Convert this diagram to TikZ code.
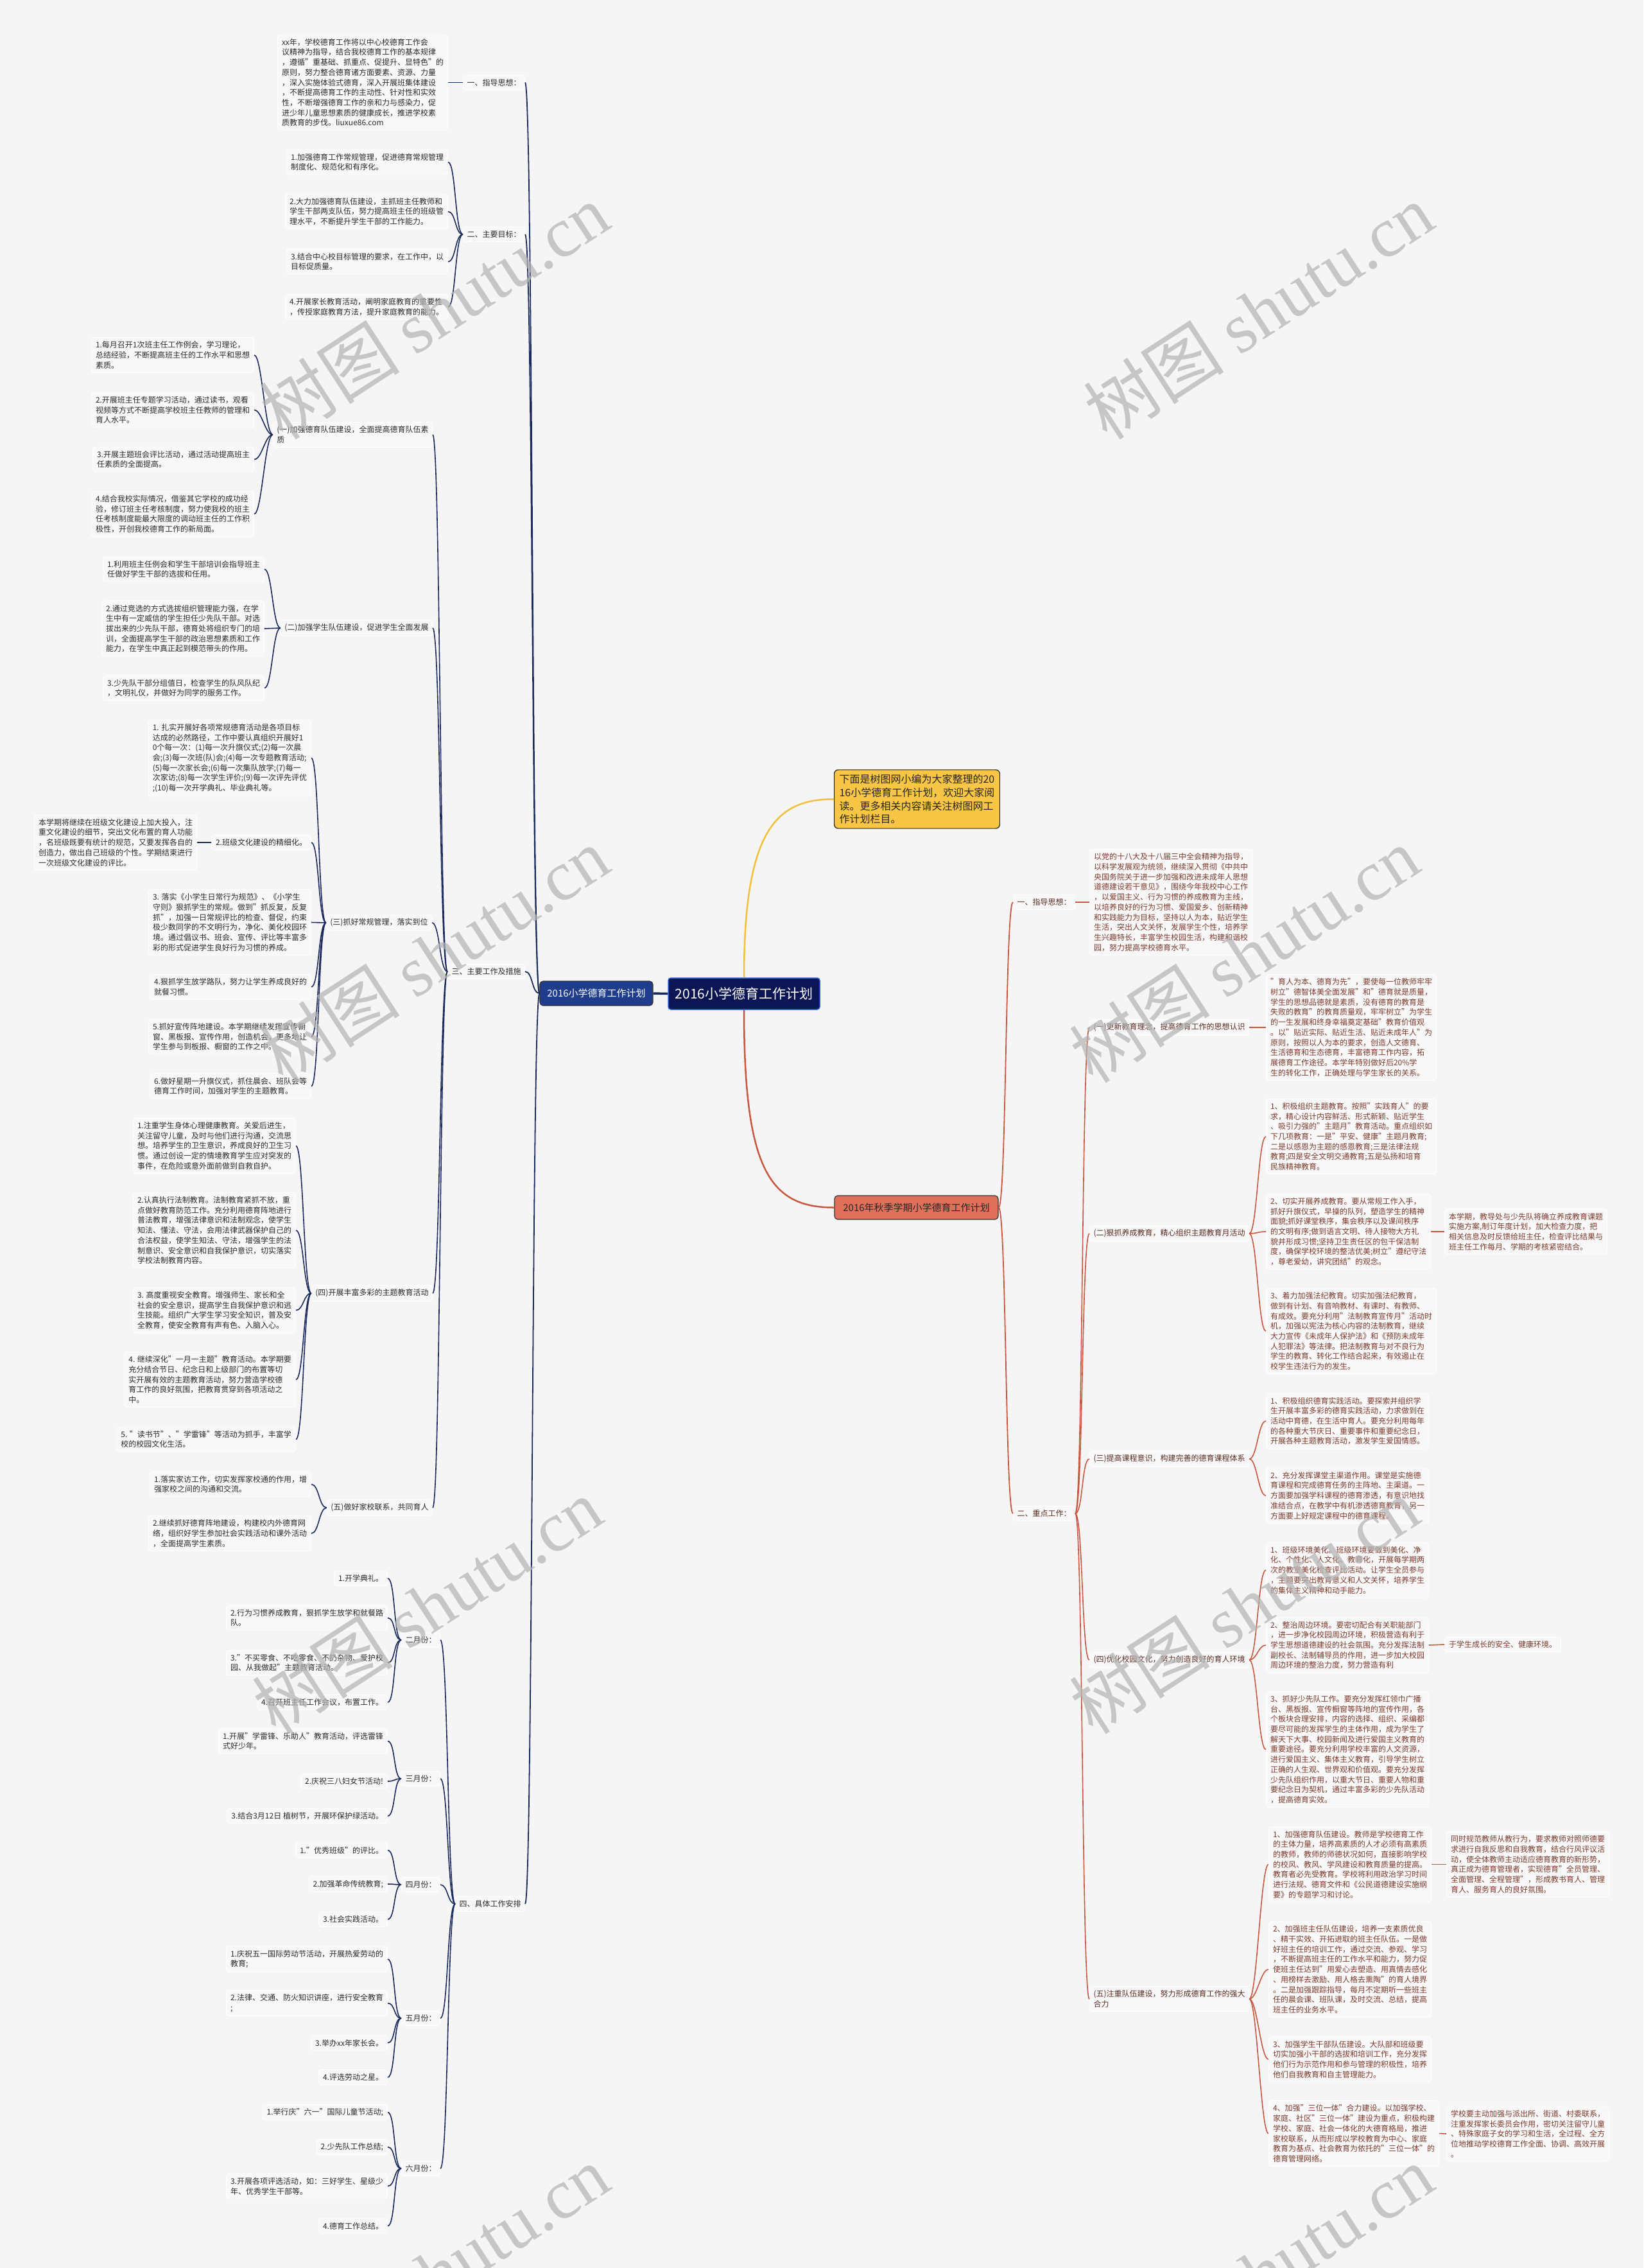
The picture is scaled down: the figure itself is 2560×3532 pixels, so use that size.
\documentclass[tikz,border=0pt]{standalone}
\usepackage{fontspec}
\setmainfont{Noto Sans CJK SC}
\newfontfamily\wmlatin{Liberation Serif}
\definecolor{bgc}{HTML}{F5F5F5}
\definecolor{leafbg}{HTML}{F8F8F8}
\definecolor{navyc}{HTML}{1B2A5C}
\definecolor{rustc}{HTML}{C9573F}
\definecolor{ltext}{HTML}{2B2B2B}
\definecolor{rtext}{HTML}{7C3A2C}
\definecolor{rlab}{HTML}{5A2C22}
\definecolor{centerfill}{HTML}{0C1654}
\definecolor{centerdraw}{HTML}{2D5FD8}
\definecolor{lvlLfill}{HTML}{1F3D8C}
\definecolor{lvlRfill}{HTML}{E0705A}
\definecolor{introfill}{HTML}{F8C545}
\definecolor{yellowc}{HTML}{F2C03A}
\definecolor{wmc}{HTML}{B4B4B4}
\tikzset{
  boxbase/.style={draw=white, line width=1pt, fill=leafbg, rounded corners=4pt, align=left,
    inner xsep=6.5pt, inner ysep=6pt, font=\fontsize{12}{15.7}\selectfont},
  leafL/.style={boxbase, text=ltext, anchor=east},
  leafR/.style={boxbase, text=rtext, anchor=west},
  labL/.style={boxbase, text=ltext, anchor=east, inner xsep=6pt},
  labR/.style={boxbase, text=rlab, anchor=west, inner xsep=6pt},
  lc/.style={draw=navyc, line width=1.6pt},
  rc/.style={draw=rustc, line width=1.6pt},
  wmark/.style={text=wmc, opacity=0.72, rotate=33, font=\fontsize{110}{110}\selectfont}
}
\begin{document}
\begin{tikzpicture}[x=1pt,y=-1pt]
\fill[bgc] (0,0) rectangle (2560,3532);
\useasboundingbox (0,0) rectangle (2560,3532);

% ---------- centre ----------
\node[draw=centerdraw, line width=1.5pt, fill=centerfill, text=white, rounded corners=4pt,
  minimum width=236pt, minimum height=49pt, inner sep=2pt, font=\fontsize{21}{24}\selectfont]
  (C) at (1159,1547.5) {2016小学德育工作计划};
\node[draw=black!80, line width=1.2pt, fill=lvlLfill, text=white, rounded corners=5pt,
  minimum width=176pt, minimum height=38pt, inner sep=2pt, font=\fontsize{15}{18}\selectfont]
  (L1) at (929,1547) {2016小学德育工作计划};
\node[draw=black!80, line width=1.2pt, fill=lvlRfill, text=black!85, rounded corners=5pt,
  minimum width=255pt, minimum height=37pt, inner sep=2pt, font=\fontsize{15}{18}\selectfont]
  (R1) at (1427.5,1880.5) {2016年秋季学期小学德育工作计划};
\node[draw=black!85, line width=1.2pt, fill=introfill, text=black!85, rounded corners=6pt,
  align=left, anchor=west, inner xsep=8pt, inner ysep=7pt, font=\fontsize{16}{20.8}\selectfont]
  (intro) at (1299,1244.5) {下面是树图网小编为大家整理的20\\16小学德育工作计划，欢迎大家阅\\读。更多相关内容请关注树图网工\\作计划栏目。};

\draw[navyc, line width=3.5pt] (L1.east) -- (C.west);
\draw[yellowc, line width=2.5pt] (C.north) .. controls +(0,-230) and +(-90,0) .. (intro.west);
\draw[rustc, line width=2.5pt] (C.south) .. controls +(0,250) and +(-100,0) .. (R1.west);

% ---------- left: sections ----------
\node[labL] (sec1) at (818,128.5) {一、指导思想：};
\node[labL] (sec2) at (818,365) {二、主要目标：};
\node[labL] (sec3) at (818,1513) {三、主要工作及措施};
\node[labL] (sec4) at (818,2965) {四、具体工作安排};
\foreach \s in {sec1,sec2,sec3,sec4}
  \draw[lc, line width=1.8pt] (L1.west) .. controls +(-12,0) and +(12,0) .. (\s.east);

% section 1
\node[leafL] (zd1) at (698,128.5) {xx年，学校德育工作将以中心校德育工作会\\议精神为指导，结合我校德育工作的基本规律\\，遵循"重基础、抓重点、促提升、显特色"的\\原则，努力整合德育诸方面要素、资源、力量\\，深入实施体验式德育，深入开展班集体建设\\，不断提高德育工作的主动性、针对性和实效\\性，不断增强德育工作的亲和力与感染力，促\\进少年儿童思想素质的健康成长，推进学校素\\质教育的步伐。liuxue86.com};
\draw[lc] (sec1.west) -- (zd1.east);

% section 2
\node[leafL] (g1) at (698,252.5) {1.加强德育工作常规管理，促进德育常规管理\\制度化、规范化和有序化。};
\node[leafL] (g2) at (698,329.5) {2.大力加强德育队伍建设，主抓班主任教师和\\学生干部两支队伍，努力提高班主任的班级管\\理水平，不断提升学生干部的工作能力。};
\node[leafL] (g3) at (698,407.5) {3.结合中心校目标管理的要求，在工作中，以\\目标促质量。};
\node[leafL] (g4) at (698,478) {4.开展家长教育活动，阐明家庭教育的重要性\\，传授家庭教育方法，提升家庭教育的能力。};
\foreach \c in {g1,g2,g3,g4}
  \draw[lc] (sec2.west) .. controls +(-12,0) and +(12,0) .. (\c.east);

% section 3 subsections
\node[labL] (s1) at (674,677) {(一)加强德育队伍建设，全面提高德育队伍素\\质};
\node[labL] (s2) at (674,978) {(二)加强学生队伍建设，促进学生全面发展};
\node[labL] (s3) at (673,1437) {(三)抓好常规管理，落实到位};
\node[labL] (s4) at (674,2014) {(四)开展丰富多彩的主题教育活动};
\node[labL] (s5) at (674,2348) {(五)做好家校联系，共同育人};
\foreach \s in {s1,s2,s3,s4,s5}
  \draw[lc] (sec3.west) .. controls +(-12,0) and +(12,0) .. (\s.east);

\node[leafL] (a1) at (396,553) {1.每月召开1次班主任工作例会，学习理论，\\总结经验，不断提高班主任的工作水平和思想\\素质。};
\node[leafL] (a2) at (396,638.5) {2.开展班主任专题学习活动，通过读书，观看\\视频等方式不断提高学校班主任教师的管理和\\育人水平。};
\node[leafL] (a3) at (396,715.5) {3.开展主题班会评比活动，通过活动提高班主\\任素质的全面提高。};
\node[leafL] (a4) at (396,800.5) {4.结合我校实际情况，借鉴其它学校的成功经\\验，修订班主任考核制度，努力使我校的班主\\任考核制度能最大限度的调动班主任的工作积\\极性，开创我校德育工作的新局面。};
\foreach \c in {a1,a2,a3,a4}
  \draw[lc] (s1.west) .. controls +(-12,0) and +(12,0) .. (\c.east);

\node[leafL] (b1) at (412,886.5) {1.利用班主任例会和学生干部培训会指导班主\\任做好学生干部的选拔和任用。};
\node[leafL] (b2) at (412,979) {2.通过竞选的方式选拔组织管理能力强，在学\\生中有一定威信的学生担任少先队干部。对选\\拔出来的少先队干部，德育处将组织专门的培\\训，全面提高学生干部的政治思想素质和工作\\能力，在学生中真正起到模范带头的作用。};
\node[leafL] (b3) at (412,1071.5) {3.少先队干部分组值日，检查学生的队风队纪\\，文明礼仪，并做好为同学的服务工作。};
\foreach \c in {b1,b2,b3}
  \draw[lc] (s2.west) .. controls +(-12,0) and +(12,0) .. (\c.east);

\node[leafL] (c1) at (485,1180.5) {1. 扎实开展好各项常规德育活动是各项目标\\达成的必然路径，工作中要认真组织开展好1\\0个每一次：(1)每一次升旗仪式;(2)每一次晨\\会;(3)每一次班(队)会;(4)每一次专题教育活动;\\(5)每一次家长会;(6)每一次集队放学;(7)每一\\次家访;(8)每一次学生评价;(9)每一次评先评优\\;(10)每一次开学典礼、毕业典礼等。};
\node[leafL] (c2) at (485,1312) {2.班级文化建设的精细化。};
\node[leafL] (c2a) at (307,1312) {本学期将继续在班级文化建设上加大投入，注\\重文化建设的细节，突出文化布置的育人功能\\，名班级既要有统计的规范，又要发挥各自的\\创造力，做出自己班级的个性。学期结束进行\\一次班级文化建设的评比。};
\node[leafL] (c3) at (485,1436.5) {3. 落实《小学生日常行为规范》、《小学生\\守则》狠抓学生的常规。做到"抓反复，反复\\抓"，加强一日常规评比的检查、督促，约束\\极少数同学的不文明行为，净化、美化校园环\\境。通过倡议书、班会、宣传、评比等丰富多\\彩的形式促进学生良好行为习惯的养成。};
\node[leafL] (c4) at (485,1537) {4.狠抓学生放学路队，努力让学生养成良好的\\就餐习惯。};
\node[leafL] (c5) at (485,1614.5) {5.抓好宣传阵地建设。本学期继续发挥宣传橱\\窗、黑板报、宣传作用，创造机会，更多地让\\学生参与到板报、橱窗的工作之中。};
\node[leafL] (c6) at (485,1691.5) {6.做好星期一升旗仪式，抓住晨会、班队会等\\德育工作时间，加强对学生的主题教育。};
\foreach \c in {c1,c2,c3,c4,c5,c6}
  \draw[lc] (s3.west) .. controls +(-12,0) and +(12,0) .. (\c.east);
\draw[lc] (c2.west) -- (c2a.east);

\node[leafL] (d1) at (461,1784.5) {1.注重学生身体心理健康教育。关爱后进生，\\关注留守儿童，及时与他们进行沟通，交流思\\想。培养学生的卫生意识，养成良好的卫生习\\惯。通过创设一定的情境教育学生应对突发的\\事件，在危险或意外面前做到自救自护。};
\node[leafL] (d2) at (461,1916) {2.认真执行法制教育。法制教育紧抓不放，重\\点做好教育防范工作。充分利用德育阵地进行\\普法教育，增强法律意识和法制观念，使学生\\知法、懂法、守法，会用法律武器保护自己的\\合法权益，使学生知法、守法，增强学生的法\\制意识、安全意识和自我保护意识，切实落实\\学校法制教育内容。};
\node[leafL] (d3) at (461,2040.5) {3. 高度重视安全教育。增强师生、家长和全\\社会的安全意识，提高学生自我保护意识和逃\\生技能。组织广大学生学习安全知识，普及安\\全教育，使安全教育有声有色、入脑入心。};
\node[leafL] (d4) at (461,2148.5) {4. 继续深化"一月一主题"教育活动。本学期要\\充分结合节日、纪念日和上级部门的布置等切\\实开展有效的主题教育活动，努力营造学校德\\育工作的良好氛围，把教育贯穿到各项活动之\\中。};
\node[leafL] (d5) at (461,2241.5) {5. "读书节"、"学雷锋"等活动为抓手，丰富学\\校的校园文化生活。};
\foreach \c in {d1,d2,d3,d4,d5}
  \draw[lc] (s4.west) .. controls +(-12,0) and +(12,0) .. (\c.east);

\node[leafL] (e1) at (485,2311.5) {1.落实家访工作，切实发挥家校通的作用，增\\强家校之间的沟通和交流。};
\node[leafL] (e2) at (485,2388) {2.继续抓好德育阵地建设，构建校内外德育网\\络，组织好学生参加社会实践活动和课外活动\\，全面提高学生素质。};
\foreach \c in {e1,e2}
  \draw[lc] (s5.west) .. controls +(-12,0) and +(12,0) .. (\c.east);

% section 4 months
\node[labL] (m2) at (686,2554) {二月份：};
\node[labL] (m3) at (686,2770) {三月份：};
\node[labL] (m4) at (686,2935) {四月份：};
\node[labL] (m5) at (686,3143) {五月份：};
\node[labL] (m6) at (686,3377) {六月份：};
\foreach \m in {m2,m3,m4,m5,m6}
  \draw[lc] (sec4.west) .. controls +(-12,0) and +(12,0) .. (\m.east);

\node[leafL] (f1) at (604,2458) {1.开学典礼。};
\node[leafL] (f2) at (604,2519.5) {2.行为习惯养成教育，狠抓学生放学和就餐路\\队。};
\node[leafL] (f3) at (604,2589.5) {3."不买零食、不吃零食、不扔杂物、爱护校\\园、从我做起"主题教育活动。};
\node[leafL] (f4) at (604,2651) {4.召开班主任工作会议，布置工作。};
\foreach \c in {f1,f2,f3,f4}
  \draw[lc] (m2.west) .. controls +(-12,0) and +(12,0) .. (\c.east);

\node[leafL] (h1) at (604,2711.5) {1.开展"学雷锋、乐助人"教育活动，评选雷锋\\式好少年。};
\node[leafL] (h2) at (604,2774) {2.庆祝三八妇女节活动!};
\node[leafL] (h3) at (604,2828) {3.结合3月12日 植树节，开展环保护绿活动。};
\foreach \c in {h1,h2,h3}
  \draw[lc] (m3.west) .. controls +(-12,0) and +(12,0) .. (\c.east);

\node[leafL] (i1) at (604,2881.5) {1."优秀班级"的评比。};
\node[leafL] (i2) at (604,2934) {2.加强革命传统教育;};
\node[leafL] (i3) at (604,2989) {3.社会实践活动。};
\foreach \c in {i1,i2,i3}
  \draw[lc] (m4.west) .. controls +(-12,0) and +(12,0) .. (\c.east);

\node[leafL] (j1) at (604,3051) {1.庆祝五一国际劳动节活动，开展热爱劳动的\\教育;};
\node[leafL] (j2) at (604,3119.5) {2.法律、交通、防火知识讲座，进行安全教育\\;};
\node[leafL] (j3) at (604,3181.5) {3.举办xx年家长会。};
\node[leafL] (j4) at (604,3235) {4.评选劳动之星。};
\foreach \c in {j1,j2,j3,j4}
  \draw[lc] (m5.west) .. controls +(-12,0) and +(12,0) .. (\c.east);

\node[leafL] (k1) at (604,3289.5) {1.举行庆"六一"国际儿童节活动;};
\node[leafL] (k2) at (604,3343.5) {2.少先队工作总结;};
\node[leafL] (k3) at (604,3404.5) {3.开展各项评选活动，如：三好学生、星级少\\年、优秀学生干部等。};
\node[leafL] (k4) at (604,3466.5) {4.德育工作总结。};
\foreach \c in {k1,k2,k3,k4}
  \draw[lc] (m6.west) .. controls +(-12,0) and +(12,0) .. (\c.east);

% ---------- right ----------
\node[labR] (rs1) at (1578,1405) {一、指导思想：};
\node[labR] (rs2) at (1578,2357) {二、重点工作：};
\foreach \s in {rs1,rs2}
  \draw[rc, line width=1.8pt] (R1.east) .. controls +(12,0) and +(-12,0) .. (\s.west);

\node[leafR] (rz) at (1697,1405) {以党的十八大及十八届三中全会精神为指导，\\以科学发展观为统领，继续深入贯彻《中共中\\央国务院关于进一步加强和改进未成年人思想\\道德建设若干意见》，围绕今年我校中心工作\\，以爱国主义、行为习惯的养成教育为主线，\\以培养良好的行为习惯、爱国爱乡、创新精神\\和实践能力为目标，坚持以人为本，贴近学生\\生活，突出人文关怀，发展学生个性，培养学\\生兴趣特长，丰富学生校园生活，构建和谐校\\园，努力提高学校德育水平。};
\draw[rc] (rs1.east) -- (rz.west);

\node[labR] (r1) at (1697,1600) {(一)更新教育理念，提高德育工作的思想认识};
\node[labR] (r2) at (1697,1921) {(二)狠抓养成教育，精心组织主题教育月活动};
\node[labR] (r3) at (1697,2272) {(三)提高课程意识，构建完善的德育课程体系};
\node[labR] (r4) at (1697,2585) {(四)优化校园文化，努力创造良好的育人环境};
\node[labR] (r5) at (1697,3113) {(五)注重队伍建设，努力形成德育工作的强大\\合力};
\foreach \s in {r1,r2,r3,r4,r5}
  \draw[rc] (rs2.east) .. controls +(12,0) and +(-12,0) .. (\s.west);

\node[leafR] (r1a) at (1972,1600) {"育人为本、德育为先"，要使每一位教师牢牢\\树立"德智体美全面发展"和"德育就是质量，\\学生的思想品德就是素质，没有德育的教育是\\失败的教育"的教育质量观，牢牢树立"为学生\\的一生发展和终身幸福奠定基础"教育价值观\\。以"贴近实际、贴近生活、贴近未成年人"为\\原则，按照以人为本的要求，创造人文德育、\\生活德育和生态德育，丰富德育工作内容，拓\\展德育工作途径。本学年特别做好后20\%学\\生的转化工作，正确处理与学生家长的关系。};
\draw[rc] (r1.east) -- (r1a.west);

\node[leafR] (r2a) at (1972,1770) {1、积极组织主题教育。按照"实践育人"的要\\求，精心设计内容鲜活、形式新颖、贴近学生\\、吸引力强的"主题月"教育活动。重点组织如\\下几项教育：一是"平安、健康"主题月教育;\\二是以感恩为主题的感恩教育;三是法律法规\\教育;四是安全文明交通教育;五是弘扬和培育\\民族精神教育。};
\node[leafR] (r2b) at (1972,1918) {2、切实开展养成教育。要从常规工作入手，\\抓好升旗仪式，早操的队列，塑造学生的精神\\面貌;抓好课堂秩序，集会秩序以及课间秩序\\的文明有序;做到语言文明、待人接物大方礼\\貌并形成习惯;坚持卫生责任区的包干保洁制\\度，确保学校环境的整洁优美;树立"遵纪守法\\，尊老爱幼，讲究团结"的观念。};
\node[leafR] (r2c) at (1972,2073) {3、着力加强法纪教育。切实加强法纪教育，\\做到有计划、有音响教材、有课时、有教师、\\有成效。要充分利用"法制教育宣传月"活动时\\机，加强以宪法为核心内容的法制教育，继续\\大力宣传《未成年人保护法》和《预防未成年\\人犯罪法》等法律。把法制教育与对不良行为\\学生的教育、转化工作结合起来，有效遏止在\\校学生违法行为的发生。};
\foreach \c in {r2a,r2b,r2c}
  \draw[rc] (r2.east) .. controls +(12,0) and +(-12,0) .. (\c.west);
\node[leafR] (r2bx) at (2250,1918) {本学期，教导处与少先队将确立养成教育课题\\实施方案,制订年度计划，加大检查力度，把\\相关信息及时反馈给班主任，检查评比结果与\\班主任工作每月、学期的考核紧密结合。};
\draw[rc] (r2b.east) -- (r2bx.west);

\node[leafR] (r3a) at (1972,2213) {1、积极组织德育实践活动。要探索并组织学\\生开展丰富多彩的德育实践活动，力求做到在\\活动中育德，在生活中育人。要充分利用每年\\的各种重大节庆日、重要事件和重要纪念日，\\开展各种主题教育活动，激发学生爱国情感。};
\node[leafR] (r3b) at (1972,2329) {2、充分发挥课堂主渠道作用。课堂是实施德\\育课程和完成德育任务的主阵地、主渠道。一\\方面要加强学科课程的德育渗透，有意识地找\\准结合点，在教学中有机渗透德育教育，另一\\方面要上好规定课程中的德育课程。};
\foreach \c in {r3a,r3b}
  \draw[rc] (r3.east) .. controls +(12,0) and +(-12,0) .. (\c.west);

\node[leafR] (r4a) at (1972,2445) {1、班级环境美化。班级环境要做到美化、净\\化、个性化、人文化、教育化，开展每学期两\\次的教室美化检查评比活动。让学生全员参与\\，主题要突出教育意义和人文关怀，培养学生\\的集体主义精神和动手能力。};
\node[leafR] (r4b) at (1972,2562) {2、整治周边环境。要密切配合有关职能部门\\，进一步净化校园周边环境，积极营造有利于\\学生思想道德建设的社会氛围。充分发挥法制\\副校长、法制辅导员的作用，进一步加大校园\\周边环境的整治力度，努力营造有利};
\node[leafR] (r4c) at (1972,2724.5) {3、抓好少先队工作。要充分发挥红领巾广播\\台、黑板报、宣传橱窗等阵地的宣传作用，各\\个板块合理安排，内容的选择、组织、采编都\\要尽可能的发挥学生的主体作用，成为学生了\\解天下大事、校园新闻及进行爱国主义教育的\\重要途径。要充分利用学校丰富的人文资源，\\进行爱国主义、集体主义教育，引导学生树立\\正确的人生观、世界观和价值观。要充分发挥\\少先队组织作用，以重大节日、重要人物和重\\要纪念日为契机，通过丰富多彩的少先队活动\\，提高德育实效。};
\foreach \c in {r4a,r4b,r4c}
  \draw[rc] (r4.east) .. controls +(12,0) and +(-12,0) .. (\c.west);
\node[leafR] (r4bx) at (2250,2561) {于学生成长的安全、健康环境。};
\draw[rc] (r4b.east) -- (r4bx.west);

\node[leafR] (r5a) at (1976,2903.5) {1、加强德育队伍建设。教师是学校德育工作\\的主体力量，培养高素质的人才必须有高素质\\的教师，教师的师德状况如何，直接影响学校\\的校风、教风、学风建设和教育质量的提高。\\教育者必先受教育。学校将利用政治学习时间\\进行法规、德育文件和《公民道德建设实施纲\\要》的专题学习和讨论。};
\node[leafR] (r5b) at (1976,3067) {2、加强班主任队伍建设，培养一支素质优良\\、精干实效、开拓进取的班主任队伍。一是做\\好班主任的培训工作，通过交流、参观、学习\\，不断提高班主任的工作水平和能力，努力促\\使班主任达到"用爱心去塑造、用真情去感化\\、用榜样去激励、用人格去熏陶"的育人境界\\。二是加强跟踪指导，每月不定期听一些班主\\任的晨会课、班队课，及时交流、总结，提高\\班主任的业务水平。};
\node[leafR] (r5c) at (1976,3207) {3、加强学生干部队伍建设。大队部和班级要\\切实加强小干部的选拔和培训工作，充分发挥\\他们行为示范作用和参与管理的积极性，培养\\他们自我教育和自主管理能力。};
\node[leafR] (r5d) at (1976,3322.5) {4、加强"三位一体"合力建设。以加强学校、\\家庭、社区"三位一体"建设为重点，积极构建\\学校、家庭、社会一体化的大德育格局，推进\\家校联系，从而形成以学校教育为中心、家庭\\教育为基点、社会教育为依托的"三位一体"的\\德育管理网络。};
\foreach \c in {r5a,r5b,r5c,r5d}
  \draw[rc] (r5.east) .. controls +(12,0) and +(-12,0) .. (\c.west);
\node[leafR] (r5ax) at (2253,2903.5) {同时规范教师从教行为，要求教师对照师德要\\求进行自我反思和自我教育，结合行风评议活\\动，使全体教师主动适应德育教育的新形势，\\真正成为德育管理者，实现德育"全员管理、\\全面管理、全程管理"，形成教书育人、管理\\育人、服务育人的良好氛围。};
\draw[rc] (r5a.east) -- (r5ax.west);
\node[leafR] (r5dx) at (2253,3323) {学校要主动加强与派出所、街道、村委联系，\\注重发挥家长委员会作用，密切关注留守儿童\\、特殊家庭子女的学习和生活，全过程、全方\\位地推动学校德育工作全面、协调、高效开展\\。};
\draw[rc] (r5d.east) -- (r5dx.west);

% ---------- watermarks ----------
\begin{scope}
\clip (0,0) rectangle (2560,3532);
\node[wmark] (wm1) at (676,485) {树图 {\wmlatin shutu.cn}};
\node[wmark] (wm2) at (1960,485) {树图 {\wmlatin shutu.cn}};
\node[wmark] (wm3) at (676,1487) {树图 {\wmlatin shutu.cn}};
\node[wmark] (wm4) at (1938,1487) {树图 {\wmlatin shutu.cn}};
\node[wmark] (wm5) at (665,2501) {树图 {\wmlatin shutu.cn}};
\node[wmark] (wm6) at (1938,2501) {树图 {\wmlatin shutu.cn}};
\node[wmark] (wm7) at (676,3540) {树图 {\wmlatin shutu.cn}};
\node[wmark] (wm8) at (1960,3540) {树图 {\wmlatin shutu.cn}};
\end{scope}
\end{tikzpicture}
\end{document}
